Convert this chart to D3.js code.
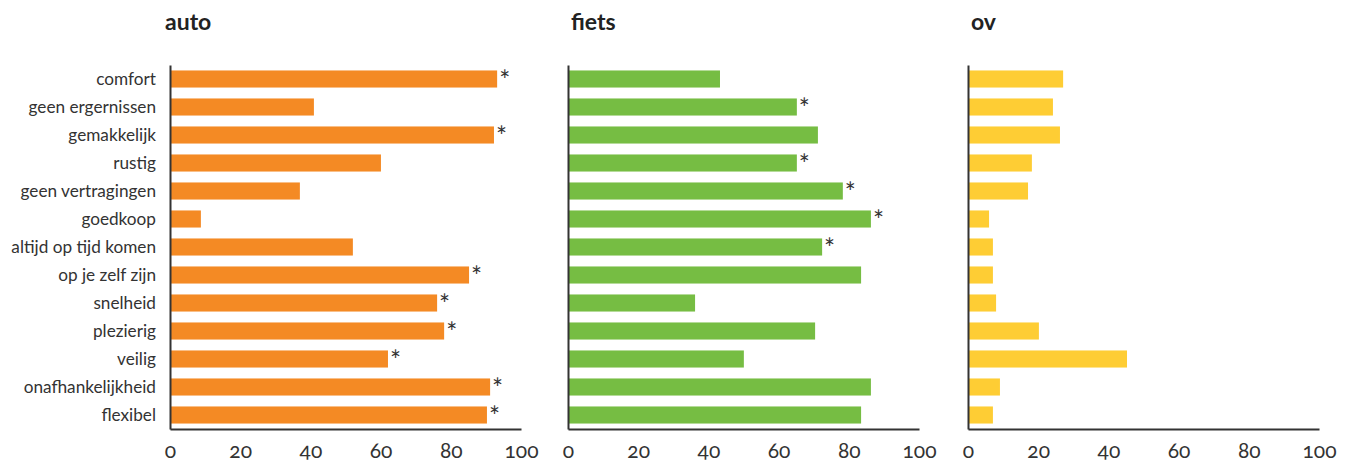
<!DOCTYPE html>
<html>
<head>
    <meta charset="utf-8">
    <title>auto fiets ov</title>
    <script src="https://cdn.jsdelivr.net/npm/d3@7"></script>
    <style>
        body { margin: 0; background: #fff; }
        text { font-family: Lato, "Open Sans", sans-serif; fill: #333; }
        .tick text.num { font-variant-numeric: oldstyle-nums; font-feature-settings: "onum" 1; }
    </style>
</head>
<body>
<script>
    var categories = ['comfort', 'geen ergernissen', 'gemakkelijk', 'rustig', 'geen vertragingen', 'goedkoop',
        'altijd op tijd komen', 'op je zelf zijn', 'snelheid', 'plezierig', 'veilig', 'onafhankelijkheid', 'flexibel'];
    var autoValues = [93.2, 41, 92.3, 60.1, 37, 8.8, 52.1, 85.2, 76.1, 78.1, 62.1, 91.2, 90.3];
    var fietsValues = [43.3, 65.2, 71.2, 65.2, 78.3, 86.3, 72.4, 83.5, 36.2, 70.4, 50.1, 86.3, 83.5];
    var ovValues = [27.1, 24.2, 26.2, 18.2, 17.1, 6.0, 7.1, 7.1, 8.0, 20.2, 45.3, 9.1, 7.1];
    // significante verschillen (*)
    var autoStars = ['comfort', 'gemakkelijk', 'op je zelf zijn', 'snelheid', 'plezierig', 'veilig', 'onafhankelijkheid', 'flexibel'];
    var fietsStars = ['geen ergernissen', 'rustig', 'geen vertragingen', 'goedkoop', 'altijd op tijd komen'];
    var ovStars = [];
    var xTicks = [0, 20, 40, 60, 80, 100];

    var panels = [
        {title: 'auto', values: autoValues, stars: autoStars, color: '#f48a24', left: 170},
        {title: 'fiets', values: fietsValues, stars: fietsStars, color: '#76bd43', left: 568},
        {title: 'ov', values: ovValues, stars: ovStars, color: '#fecd34', left: 968}
    ];

    var width = 1351, height = 464;
    var plotTop = 65, plotBottom = 429, plotWidth = 351;

    var svg = d3.select('body').append('svg').attr('width', width).attr('height', height);

    var y = d3.scaleBand().domain(categories).range([plotTop, plotBottom]).paddingInner(0.39).paddingOuter(0.195);

    panels.forEach(function (p, pi) {
        var x = d3.scaleLinear().domain([0, 100]).range([p.left, p.left + plotWidth]);
        var g = svg.append('g');

        g.append('text')
            .attr('x', p.left + (pi === 0 ? -5 : 3))
            .attr('y', 30)
            .attr('font-size', 23)
            .attr('font-weight', 'bold')
            .style('fill', '#222')
            .text(p.title);

        g.selectAll('rect').data(categories).enter().append('rect')
            .attr('fill', p.color)
            .attr('x', x(0) + 1)
            .attr('y', function (d) { return y(d); })
            .attr('width', function (d, i) { return x(p.values[i]) - x(0) - 1; })
            .attr('height', y.bandwidth());

        g.selectAll('text.star').data(categories.filter(function (d) { return p.stars.indexOf(d) >= 0; }))
            .enter().append('text')
            .attr('class', 'star')
            .attr('font-size', 26)
            .attr('x', function (d) { return x(p.values[categories.indexOf(d)]) + 2; })
            .attr('y', function (d) { return y(d) + 19.5; })
            .text('*');

        var xAxis = d3.axisBottom(x).tickValues(xTicks).tickSize(0).tickSizeOuter(0);
        var gx = g.append('g').attr('transform', 'translate(0,' + plotBottom + ')').call(xAxis);
        gx.select('.domain').attr('stroke', '#333').attr('stroke-width', 2);
        gx.selectAll('.tick text').attr('class', 'num').attr('font-size', 21).attr('dy', null).attr('y', 29)
            .attr('font-family', null);

        var yAxis = d3.axisLeft(y).tickSize(0).tickSizeOuter(0).tickPadding(14);
        if (pi > 0) yAxis.tickFormat('');
        var gy = g.append('g').attr('transform', 'translate(' + p.left + ',0)').call(yAxis);
        gy.select('.domain').attr('stroke', '#333').attr('stroke-width', 2);
        gy.selectAll('.tick text').attr('font-size', 17.2).attr('font-family', null);
    });
</script>
</body>
</html>
